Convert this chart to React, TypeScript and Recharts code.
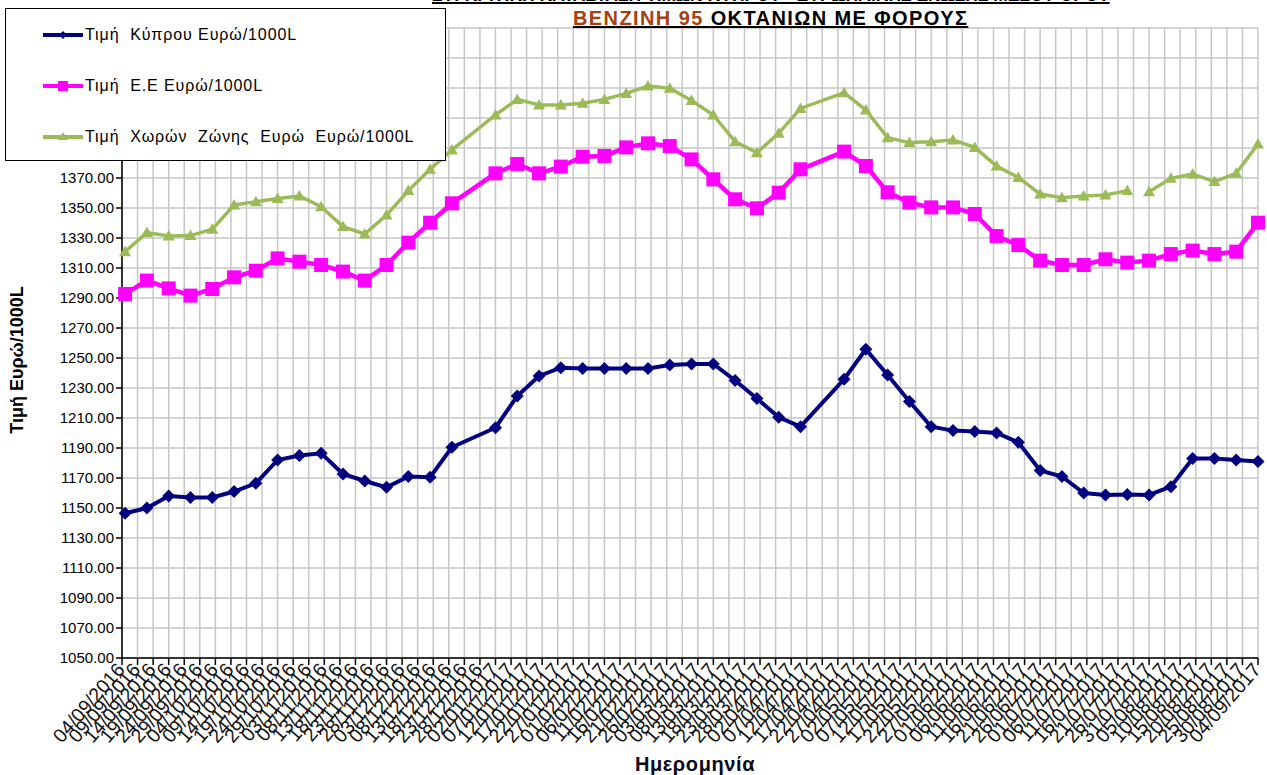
import React from 'react'
import { LineChart, Line, XAxis, YAxis, CartesianGrid } from 'recharts'

// weekly bulletin dates (26/12/2016 and 17/04/2017 have no entry)
const dates = [
  '05/09/2016', '12/09/2016', '19/09/2016', '26/09/2016', '03/10/2016', '10/10/2016', '17/10/2016', '24/10/2016',
  '31/10/2016', '07/11/2016', '14/11/2016', '21/11/2016', '28/11/2016', '05/12/2016', '12/12/2016', '19/12/2016',
  '02/01/2017', '09/01/2017', '16/01/2017', '23/01/2017', '30/01/2017', '06/02/2017', '13/02/2017', '20/02/2017',
  '27/02/2017', '06/03/2017', '13/03/2017', '20/03/2017', '27/03/2017', '03/04/2017', '10/04/2017', '24/04/2017',
  '01/05/2017', '08/05/2017', '15/05/2017', '22/05/2017', '29/05/2017', '05/06/2017', '12/06/2017', '19/06/2017',
  '26/06/2017', '03/07/2017', '10/07/2017', '17/07/2017', '24/07/2017', '27/07/2017', '31/07/2017', '07/08/2017',
  '14/08/2017', '21/08/2017', '28/08/2017', '04/09/2017',
]

const cyprusPrice = [
  1146.5, 1150, 1158, 1157, 1157, 1161, 1166.5, 1182,
  1185, 1186.5, 1172.7, 1168, 1163.8, 1171, 1170.5, 1190.5,
  1203.5, 1224.7, 1238, 1243.5, 1243, 1243, 1243, 1243,
  1245.3, 1246, 1246, 1235, 1223, 1210.5, 1204.2, 1235.8,
  1255.8, 1238.7, 1221, 1204.2, 1201.6, 1201, 1200, 1193.8,
  1175, 1171, 1160, 1158.7, 1159, null, 1158.7, 1164.2,
  1183, 1183, 1182, 1181,
]

const euPrice = [
  1292.7, 1301.6, 1296.4, 1291.6, 1296, 1303.8, 1308.2, 1316.4,
  1314.2, 1312, 1307.6, 1301.6, 1312, 1326.9, 1340.2, 1353.1,
  1373.1, 1379.3, 1373.1, 1377.6, 1384.2, 1384.7, 1390.4, 1393.1,
  1391.3, 1382.4, 1369.1, 1355.8, 1349.8, 1360.2, 1375.8, 1387.6,
  1378, 1360.5, 1353.6, 1350.4, 1350.4, 1346, 1331.3, 1325.3,
  1314.9, 1312, 1312, 1315.8, 1313.6, null, 1314.9, 1319.3,
  1321.6, 1319.3, 1320.9, 1340.2,
]

const eurozonePrice = [
  1320.9, 1333.6, 1331.3, 1331.6, 1335.8, 1352, 1354.2, 1356.4,
  1358, 1350.9, 1337.6, 1332.7, 1345.3, 1361.6, 1375.8, 1388.7,
  1412, 1422.4, 1418.7, 1418.7, 1419.8, 1422.4, 1426.4, 1431.3,
  1429.8, 1421.6, 1412, 1394.2, 1386.9, 1399.8, 1416.4, 1426.9,
  1415.3, 1396.8, 1393.6, 1394.2, 1395.3, 1390.4, 1378, 1370.4,
  1359.3, 1356.9, 1358, 1358.7, 1361.6, null, 1360.9, 1369.8,
  1372.7, 1367.6, 1373.1, 1392.7,
]

const tickLabels = [
  '04/09/2016', '09/09/2016', '14/09/2016', '19/09/2016', '24/09/2016', '29/09/2016', '04/10/2016', '09/10/2016',
  '14/10/2016', '19/10/2016', '24/10/2016', '29/10/2016', '03/11/2016', '08/11/2016', '13/11/2016', '18/11/2016',
  '23/11/2016', '28/11/2016', '03/12/2016', '08/12/2016', '13/12/2016', '18/12/2016', '23/12/2016', '28/12/2016',
  '02/01/2017', '07/01/2017', '12/01/2017', '17/01/2017', '22/01/2017', '27/01/2017', '01/02/2017', '06/02/2017',
  '11/02/2017', '16/02/2017', '21/02/2017', '26/02/2017', '03/03/2017', '08/03/2017', '13/03/2017', '18/03/2017',
  '23/03/2017', '28/03/2017', '02/04/2017', '07/04/2017', '12/04/2017', '17/04/2017', '22/04/2017', '27/04/2017',
  '02/05/2017', '07/05/2017', '12/05/2017', '17/05/2017', '22/05/2017', '27/05/2017', '01/06/2017', '06/06/2017',
  '11/06/2017', '16/06/2017', '21/06/2017', '26/06/2017', '01/07/2017', '06/07/2017', '11/07/2017', '16/07/2017',
  '21/07/2017', '26/07/2017', '31/07/2017', '05/08/2017', '10/08/2017', '15/08/2017', '20/08/2017', '25/08/2017',
  '30/08/2017', '04/09/2017',
]

const yTicks = [
  1050, 1070, 1090, 1110, 1130, 1150, 1170, 1190, 1210, 1230, 1250,
  1270, 1290, 1310, 1330, 1350, 1370, 1390, 1410, 1430, 1450, 1470,
]

const font = '"Liberation Sans", Arial, sans-serif'

const toDay = (s: string) => {
  const [d, m, y] = s.split('/').map(Number)
  return Math.round((Date.UTC(y, m - 1, d) - Date.UTC(2016, 8, 4)) / 86400000)
}

const data = dates.map((date, i) => ({
  day: toDay(date),
  cyprus: cyprusPrice[i],
  eu: euPrice[i],
  eurozone: eurozonePrice[i],
}))

const tickDays = tickLabels.map(toDay)
const labelByDay: Record<number, string> = {}
tickLabels.forEach((t) => { labelByDay[toDay(t)] = t })

const XTick = (props: any) => {
  const { x, y, payload } = props
  return (
    <text
      x={x}
      y={y}
      transform={`rotate(-49, ${x}, ${y})`}
      textAnchor="end"
      dy={5}
      fontSize={19.5}
      fontFamily={font}
      fill="#111"
    >
      {labelByDay[payload.value]}
    </text>
  )
}

const Diamond = (props: any) => {
  const { cx, cy, index } = props
  if (cy == null || isNaN(cy)) return <g key={`c${index}`} />
  const r = 6.5
  return <path key={`c${index}`} d={`M${cx},${cy - r}L${cx + r},${cy}L${cx},${cy + r}L${cx - r},${cy}Z`} fill="#000080" />
}

const Square = (props: any) => {
  const { cx, cy, index } = props
  if (cy == null || isNaN(cy)) return <g key={`e${index}`} />
  return <rect key={`e${index}`} x={cx - 7} y={cy - 7} width={14} height={14} fill="#FF00FF" />
}

const Triangle = (props: any) => {
  const { cx, cy, index } = props
  if (cy == null || isNaN(cy)) return <g key={`z${index}`} />
  return <path key={`z${index}`} d={`M${cx},${cy - 6}L${cx + 6},${cy + 4.5}L${cx - 6},${cy + 4.5}Z`} fill="#9BBB59" />
}

const YTitle = (props: any) => {
  const { viewBox } = props
  const x = viewBox.x + 17
  const y = viewBox.y + viewBox.height / 2 + 17
  return (
    <text x={x} y={y} transform={`rotate(-90, ${x}, ${y})`} textAnchor="middle" dominantBaseline="central"
      fontSize={18} fontWeight="bold" fontFamily={font} fill="#000">
      Τιμή Ευρώ/1000L
    </text>
  )
}

const XTitle = (props: any) => {
  const { viewBox } = props
  const x = viewBox.x + viewBox.width / 2 + 5
  return (
    <text x={x} y={771} textAnchor="middle" fontSize={20} fontWeight="bold" fontFamily={font} fill="#0a0a1e" letterSpacing={0.6}>
      Ημερομηνία
    </text>
  )
}

const legendItems = [
  { name: 'Τιμή  Κύπρου Ευρώ/1000L', color: '#000080', shape: 'diamond' },
  { name: 'Τιμή  Ε.Ε Ευρώ/1000L', color: '#FF00FF', shape: 'square' },
  { name: 'Τιμή  Χωρών  Ζώνης  Ευρώ  Ευρώ/1000L', color: '#9BBB59', shape: 'triangle' },
]

export default function App() {
  return (
    <div style={{ position: 'absolute', left: 0, top: 0, width: 1267, height: 775, background: '#fff', overflow: 'hidden' }}>
      <LineChart width={1267} height={775} data={data} margin={{ top: 28, right: 9, bottom: 0, left: 0 }}>
        <CartesianGrid stroke="#c6c6c6" strokeWidth={1.5} />
        <XAxis
          type="number"
          dataKey="day"
          domain={[0, 365]}
          ticks={tickDays}
          interval={0}
          height={117}
          tick={XTick}
          tickSize={7}
          tickLine={{ stroke: '#000', strokeWidth: 1.5 }}
          axisLine={{ stroke: '#000', strokeWidth: 1.5 }}
          label={XTitle}
        />
        <YAxis
          type="number"
          domain={[1050, 1470]}
          ticks={yTicks}
          interval={0}
          width={122}
          tickSize={6}
          // labels above 1370 sit behind the legend box in the original
          tickFormatter={(v: number) => (v > 1370 ? '' : v.toFixed(2))}
          tick={{ fontSize: 15, fontFamily: font, fill: '#000' }}
          tickLine={{ stroke: '#000', strokeWidth: 1.5 }}
          axisLine={{ stroke: '#000', strokeWidth: 1.5 }}
          label={YTitle}
        />
        <Line dataKey="cyprus" stroke="#000080" strokeWidth={4} dot={Diamond} connectNulls isAnimationActive={false} />
        <Line dataKey="eu" stroke="#FF00FF" strokeWidth={4.5} dot={Square} connectNulls isAnimationActive={false} />
        <Line dataKey="eurozone" stroke="#9BBB59" strokeWidth={3.5} dot={Triangle} connectNulls={false} isAnimationActive={false} />
      </LineChart>

      <div style={{ position: 'absolute', left: 432, top: -15, fontFamily: font, fontWeight: 'bold', fontSize: 17.5, textDecoration: 'underline', textDecorationThickness: 2, whiteSpace: 'nowrap', color: '#000' }}>
        ΣΥΓΚΡΙΤΙΚΗ ΚΑΤΑΣΤΑΣΗ ΤΙΜΩΝ ΚΥΠΡΟΥ - ΕΥΡΩΠΑΪΚΗΣ ΕΝΩΣΗΣ ΜΕΣΟΥ ΟΡΟΥ
      </div>
      <div style={{ position: 'absolute', left: 573, top: 7, fontFamily: font, fontWeight: 'bold', fontSize: 20, letterSpacing: 1.4, textDecoration: 'underline', textDecorationThickness: 2, whiteSpace: 'nowrap' }}>
        <span style={{ color: '#A5400F' }}>BENZINH 95 </span>
        <span style={{ color: '#000' }}>ΟΚΤΑΝΙΩΝ ΜΕ ΦΟΡΟΥΣ</span>
      </div>

      <div style={{ position: 'absolute', left: 5, top: 8, width: 439, height: 151, background: '#fff', border: '1px solid #000', fontFamily: font, fontSize: 16, letterSpacing: 0.9 }}>
        {legendItems.map((item, i) => (
          <div key={item.name} style={{ position: 'absolute', left: 35, top: 16 + i * 51, height: 20, display: 'flex', alignItems: 'center', whiteSpace: 'pre' }}>
            <svg width={44} height={16}>
              <line x1={2} y1={8} x2={42} y2={8} stroke={item.color} strokeWidth={4} />
              {item.shape === 'diamond' && <path d="M22,4L26,8L22,12L18,8Z" fill={item.color} />}
              {item.shape === 'square' && <rect x={17} y={3} width={10} height={10} fill={item.color} />}
              {item.shape === 'triangle' && <path d="M22,3L27,11L17,11Z" fill={item.color} />}
            </svg>
            <span>{item.name}</span>
          </div>
        ))}
      </div>
    </div>
  )
}
